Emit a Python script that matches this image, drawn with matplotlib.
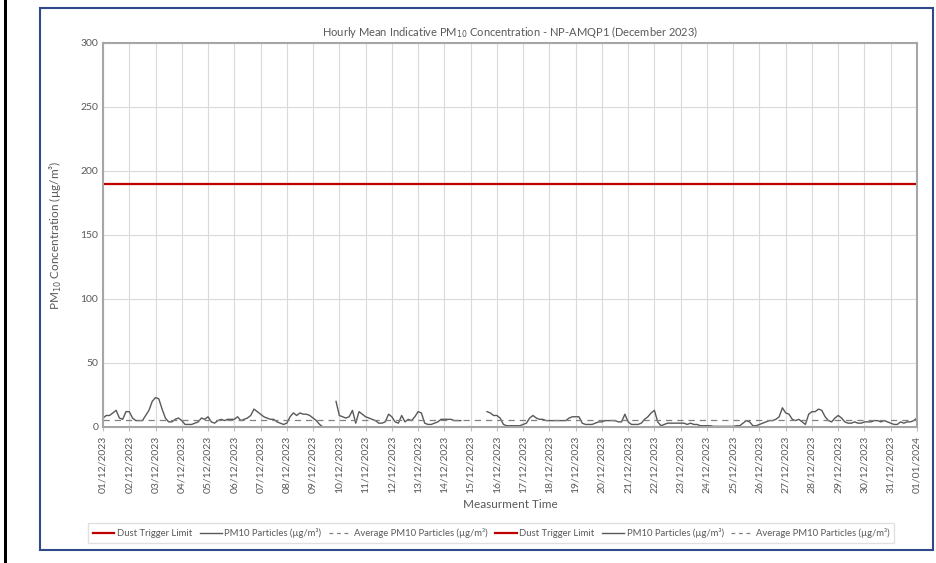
import numpy as np
import pandas as pd
import matplotlib
matplotlib.use('Agg')
import matplotlib.pyplot as plt
import matplotlib.dates as mdates
from matplotlib.patches import Rectangle
from matplotlib.lines import Line2D

nan = np.nan

# 3-hourly readings (00,03,06,09,12,15,18,21) for each day of December 2023
pm10_by_day = [
    [7, 9, 9, 11, 13, 7, 6, 12],        # 01
    [12, 7, 5, 5, 5, 9, 13, 20],        # 02
    [23, 22, 14, 7, 4, 4, 6, 7],        # 03
    [5, 2, 2, 2, 3, 4, 7, 6],           # 04
    [8, 4, 3, 5, 6, 5, 6, 6],           # 05
    [6, 8, 5, 6, 7, 9, 14, 12],         # 06
    [10, 8, 7, 6, 6, 4, 3, 2],          # 07
    [3, 8, 11, 9, 11, 10, 10, 9],       # 08
    [7, 5, 2, 0, nan, nan, nan, 20],    # 09
    [9, 8, 7, 8, 13, 3, 12, 10],        # 10
    [8, 7, 6, 5, 3, 3, 4, 10],          # 11
    [8, 4, 3, 9, 4, 6, 5, 8],           # 12
    [12, 11, 3, 2, 2, 3, 4, 6],         # 13
    [6, 6, 6, 5, 5, 5, nan, nan],       # 14
    [nan, nan, nan, nan, nan, 12, 11, 9],  # 15
    [9, 7, 2, 1, 1, 1, 1, 1],           # 16
    [2, 3, 7, 9, 7, 6, 6, 5],           # 17
    [5, 5, 5, 5, 5, 5, 7, 8],           # 18
    [8, 8, 3, 2, 2, 2, 3, 4],           # 19
    [4, 5, 5, 5, 5, 4, 4, 10],          # 20
    [4, 2, 2, 2, 3, 6, 8, 11],          # 21
    [13, 4, 1, 2, 3, 3, 3, 3],          # 22
    [3, 3, 2, 3, 2, 2, 1, 1],           # 23
    [1, 1, 0.5, 0.5, 0.5, 0.5, 0.5, 0.5],  # 24
    [0.5, 1, 1, 3, 5, 4, 1, 1],         # 25
    [2, 3, 4, 5, 5, 6, 8, 15],          # 26
    [11, 10, 6, 5, 6, 4, 2, 10],        # 27
    [12, 12, 14, 13, 8, 5, 4, 7],       # 28
    [9, 7, 4, 3, 3, 4, 3, 3],           # 29
    [4, 4, 4, 5, 5, 4, 5, 4],           # 30
    [3, 2, 2, 4, 3, 4, 4, 5],           # 31
]
pm10_last = 7  # 01/01/2024 00:00
pm10 = [v for day in pm10_by_day for v in day] + [pm10_last]
times = pd.date_range('2023-12-01 00:00', '2024-01-01 00:00', freq='3h')

dust_trigger = 190
avg_pm10 = 5.5

fig = plt.figure(figsize=(9.36, 5.63), dpi=100)
plt.rcParams['font.family'] = ['Lato', 'DejaVu Sans']

# outer frame and left black bar
fig.patches.append(Rectangle((40 / 936, 13 / 563), 893 / 936, 542 / 563, transform=fig.transFigure,
                             fill=False, edgecolor='#2E4A8A', linewidth=1.5))
fig.patches.append(Rectangle((4 / 936, 0), 3 / 936, 1, transform=fig.transFigure,
                             facecolor='black', edgecolor='none'))

ax = fig.add_axes([103 / 936, 1 - 427 / 563, 814 / 936, 384 / 563])

ax.axhline(dust_trigger, color='#C00000', linewidth=1.6)
ax.plot(times, pm10, color='#595959', linewidth=1.0)
ax.axhline(avg_pm10, color='#808080', linewidth=0.9, linestyle=(0, (5, 4)))

ax.set_xlim(times[0], times[-1])
ax.set_ylim(0, 300)
ax.set_yticks(range(0, 301, 50))
ax.xaxis.set_major_locator(mdates.DayLocator())
ax.xaxis.set_major_formatter(mdates.DateFormatter('%d/%m/%Y'))
ax.tick_params(axis='x', rotation=90, labelsize=7.5, colors='#595959', length=3, color='#BFBFBF')
ax.tick_params(axis='y', labelsize=7.5, colors='#595959', length=0)
ax.grid(True, color='#DADADA', linewidth=0.8)
ax.set_axisbelow(True)
for s in ax.spines.values():
    s.set_color('#A6A6A6')
    s.set_linewidth(1.5)

ax.set_title('Hourly Mean Indicative PM$_{10}$ Concentration - NP-AMQP1 (December 2023)',
             fontsize=8, color='#595959', pad=5)
ax.set_xlabel('Measurment Time', fontsize=8.5, color='#595959', labelpad=4)
ax.set_ylabel('PM$_{10}$ Concentration (µg/m³)', fontsize=8.5, color='#595959', labelpad=12)

h_red = Line2D([], [], color='#C00000', linewidth=1.6)
h_pm = Line2D([], [], color='#595959', linewidth=1.0)
h_avg = Line2D([], [], color='#808080', linewidth=0.9, linestyle=(0, (3, 3)))
labels = ['Dust Trigger Limit', 'PM10 Particles (µg/m³)', 'Average PM10 Particles (µg/m³)']
fig.legend([h_red, h_pm, h_avg, h_red, h_pm, h_avg], labels * 2, ncol=6,
           loc='center', bbox_to_anchor=(491 / 936, 1 - 533 / 563), fontsize=6.8,
           frameon=True, fancybox=False, edgecolor='#D9D9D9', handlelength=2.3,
           columnspacing=0.8, handletextpad=0.3, labelcolor='#595959',
           borderpad=0.5)

fig.savefig('out.png', dpi=100)
